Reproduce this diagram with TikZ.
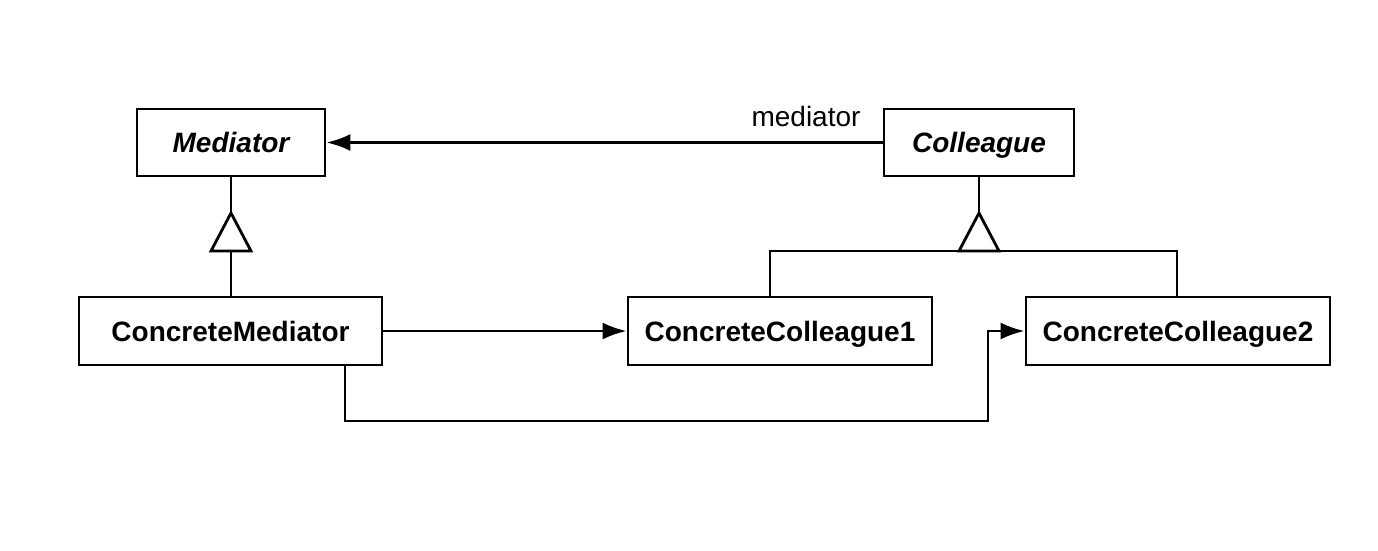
\documentclass[tikz,border=0pt]{standalone}
\usepackage{fontspec}
\setmainfont{Liberation Sans}
\usetikzlibrary{arrows.meta}
\begin{document}
\begin{tikzpicture}[x=1pt,y=-1pt,
  line width=2.8pt,
  cls/.style={draw,line width=2.8pt,minimum height=67pt,inner sep=0pt,
    text height=20pt,text depth=0pt,
    font=\fontsize{28}{34}\selectfont\bfseries},
  abstractcls/.style={cls,font=\fontsize{28}{34}\selectfont\bfseries\itshape},
  assoc/.style={-{Latex[length=24pt,width=17pt]}},
  gen/.style={draw,line width=2.8pt,fill=white,line join=miter}]
\useasboundingbox (0,0) rectangle (1378,550);

% classes
\node[abstractcls,minimum width=188pt] (med) at (231,142.5) {Mediator};
\node[abstractcls,minimum width=190pt] (col) at (979,142.5) {Colleague};
\node[cls,minimum width=303pt,minimum height=68pt] (cmed) at (230.5,331) {ConcreteMediator};
\node[cls,minimum width=304pt,minimum height=68pt] (cc1) at (780,331) {ConcreteColleague1};
\node[cls,minimum width=304pt,minimum height=68pt] (cc2) at (1178,331) {ConcreteColleague2};

% association Colleague -> Mediator
\draw[assoc] (col.west) -- (med.east);
\node[font=\fontsize{28}{34}\selectfont,text height=20pt,text depth=0pt,inner sep=0pt] (lbl) at (806,116) {mediator};

% generalization ConcreteMediator -> Mediator
\coordinate (apexA) at (231,213);
\coordinate (baseA) at (231,251);
\draw (med.south) -- (apexA);
\draw (baseA) -- (cmed.north -| baseA);
\draw[gen] (apexA) -- (251,251) -- (211,251) -- cycle;

% generalization ConcreteColleagues -> Colleague
\coordinate (apexB) at (979,213);
\coordinate (busL) at (770,251);
\coordinate (busR) at (1177,251);
\draw (col.south) -- (apexB);
\draw (cc1.north -| busL) -- (busL) -- (busR) -- (cc2.north -| busR);
\draw[gen] (apexB) -- (999,251) -- (959,251) -- cycle;

% ConcreteMediator -> ConcreteColleague1
\draw[assoc] (cmed.east) -- (cc1.west);

% ConcreteMediator -> ConcreteColleague2
\coordinate (dropL) at (345,421);
\coordinate (dropR) at (988,421);
\draw[assoc] (cmed.south -| dropL) -- (dropL) -- (dropR) -- (dropR |- cc2.west) -- (cc2.west);
\end{tikzpicture}
\end{document}
